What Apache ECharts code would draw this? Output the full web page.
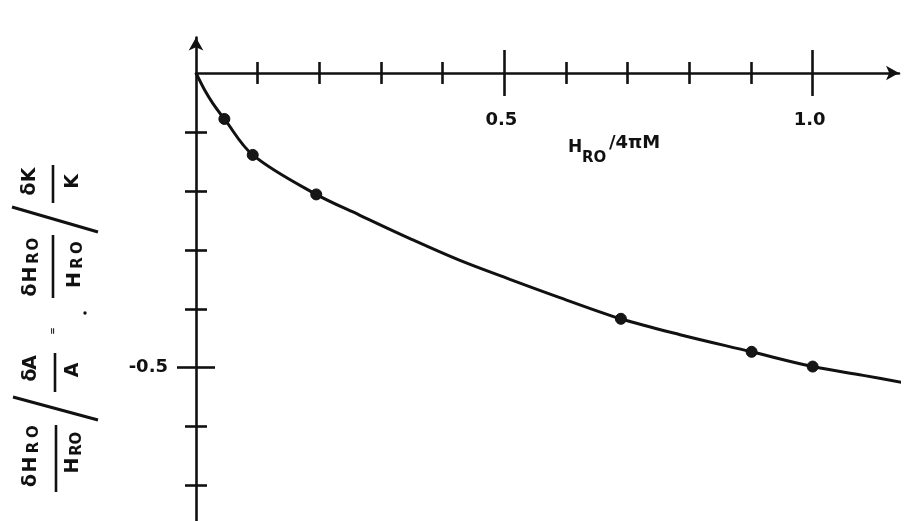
<!DOCTYPE html>
<html>
<head>
<meta charset="utf-8">
<script src="https://cdn.jsdelivr.net/npm/echarts@6/dist/echarts.min.js"></script>
<style>
  html, body { margin: 0; padding: 0; background: #ffffff; }
  #chart { width: 910px; height: 521px; }
</style>
</head>
<body>
<div id="chart"></div>
<script>
// Measured points: H_RO/4πM against the sensitivity ratio
const pointX = [0.046, 0.092, 0.195, 0.689, 0.901, 1.0];
const pointY = [-0.078, -0.139, -0.206, -0.417, -0.473, -0.498];

// Smooth curve drawn through the measurements
const curveX = [0, 0.014, 0.027, 0.046, 0.092, 0.195, 0.265, 0.347, 0.428, 0.509, 0.590, 0.689, 0.785, 0.901, 1.0, 1.082, 1.155];
const curveY = [0, -0.029, -0.051, -0.078, -0.139, -0.206, -0.241, -0.281, -0.318, -0.350, -0.381, -0.417, -0.444, -0.473, -0.498, -0.513, -0.527];

// Tick positions and their labels
const xMinorTicks = [0.1, 0.2, 0.3, 0.4, 0.6, 0.7, 0.8, 0.9];
const xMajorTicks = [0.5, 1.0];
const xTickLabels = ['0.5', '1.0'];
const yMinorTicks = [-0.1, -0.2, -0.3, -0.4, -0.6, -0.7];
const yMajorTicks = [-0.5];
const yTickLabels = ['-0.5'];

const INK = '#111111';
const FONT = '"DejaVu Sans", "Liberation Sans", sans-serif';
const AXIS_W = 2.6;

function labelFor(values, labels) {
  return function (v) {
    for (let i = 0; i < values.length; i++) {
      if (Math.abs(values[i] - v) < 1e-9) return labels[i];
    }
    return '';
  };
}

// One axis per tick direction / tick length, all pinned to the zero line
function xAxisDef(position, ticks, len, withLine) {
  return {
    type: 'value', min: 0, max: 1.14, position: position,
    splitLine: { show: false },
    axisLine: {
      show: withLine, onZero: true, onZeroAxisIndex: 0,
      symbol: ['none', 'arrow'], symbolSize: [11, 13],
      lineStyle: { color: INK, width: AXIS_W }
    },
    axisTick: { show: true, customValues: ticks, length: len, lineStyle: { color: INK, width: AXIS_W } },
    axisLabel: { show: false }
  };
}
function yAxisDef(position, ticks, len, withLine) {
  return {
    type: 'value', min: -0.76, max: 0.06, position: position,
    splitLine: { show: false },
    axisLine: {
      show: withLine, onZero: true, onZeroAxisIndex: 0,
      symbol: ['none', 'arrow'], symbolSize: [11, 13],
      lineStyle: { color: INK, width: AXIS_W }
    },
    axisTick: { show: true, customValues: ticks, length: len, lineStyle: { color: INK, width: AXIS_W } },
    axisLabel: withLine ? {
      show: true, customValues: yMajorTicks, formatter: labelFor(yMajorTicks, yTickLabels),
      margin: 28, color: INK, fontFamily: FONT, fontWeight: 'bold', fontSize: 18
    } : { show: false }
  };
}

// Glyph helper for the rotated y-axis title (local frame: u along reading direction, v across)
function glyph(ch, u, v, size) {
  return {
    type: 'text', x: u, y: v,
    style: { text: ch, font: 'bold ' + size + 'px ' + FONT, fill: INK, align: 'center', verticalAlign: 'middle' }
  };
}
function bar(u1, u2, v, w) {
  return { type: 'line', shape: { x1: u1, y1: v, x2: u2, y2: v }, style: { stroke: INK, lineWidth: w || 2.6 } };
}

const MAIN = 19, SUB = 15;
const yTitleParts = [
  // δH_RO / H_RO
  glyph('δ', 40.5, 31, MAIN), glyph('H', 56.5, 31, MAIN), glyph('R', 73.5, 34.5, SUB), glyph('O', 89.5, 34.5, SUB),
  bar(29, 96, 56),
  glyph('H', 55.5, 73.5, MAIN), glyph('R', 71, 77, SUB), glyph('O', 83, 77, SUB),
  // large divider
  { type: 'line', shape: { x1: 124, y1: 13, x2: 101, y2: 98 }, style: { stroke: INK, lineWidth: 3 } },
  // δA / A
  glyph('δ', 146, 31, MAIN), glyph('A', 158.5, 31, MAIN),
  bar(129, 168, 55),
  glyph('A', 151, 73, MAIN),
  // equals sign
  glyph('=', 190, 53, 9),
  // δH_RO / H_RO
  glyph('δ', 231, 31, MAIN), glyph('H', 246.5, 31, MAIN), glyph('R', 263, 34.5, SUB), glyph('O', 277, 34.5, SUB),
  bar(223, 286, 53),
  glyph('H', 241, 75, MAIN), glyph('R', 258, 78, SUB), glyph('O', 273.5, 78, SUB),
  { type: 'circle', shape: { cx: 208, cy: 85, r: 1.7 }, style: { fill: INK } },
  // large divider
  { type: 'line', shape: { x1: 314, y1: 12, x2: 289, y2: 98 }, style: { stroke: INK, lineWidth: 3 } },
  // δK / K
  glyph('δ', 332, 30, MAIN), glyph('K', 346, 30, MAIN),
  bar(318, 356, 53),
  glyph('K', 339.5, 73, MAIN)
];

const chart = echarts.init(document.getElementById('chart'), null, { renderer: 'canvas' });
chart.setOption({
  backgroundColor: '#ffffff',
  animation: false,
  grid: { left: 196, right: 11, top: 37.6, bottom: 0, containLabel: false, outerBoundsMode: 'none' },
  xAxis: [
    xAxisDef('bottom', xMinorTicks, 11, true),
    xAxisDef('top', xMinorTicks, 11, false),
    xAxisDef('bottom', xMajorTicks, 23, false),
    xAxisDef('top', xMajorTicks, 23, false)
  ],
  yAxis: [
    yAxisDef('left', yMinorTicks, 11, true),
    yAxisDef('right', yMinorTicks, 11, false),
    yAxisDef('left', yMajorTicks, 19, false),
    yAxisDef('right', yMajorTicks, 19, false)
  ],
  series: [
    {
      type: 'line', xAxisIndex: 0, yAxisIndex: 0,
      data: curveX.map((x, i) => [x, curveY[i]]),
      smooth: 0.35, showSymbol: false, clip: false,
      lineStyle: { color: INK, width: 3 }, z: 2
    },
    {
      type: 'scatter', xAxisIndex: 0, yAxisIndex: 0,
      data: pointX.map((x, i) => [x, pointY[i]]),
      symbol: 'circle', symbolSize: 11,
      itemStyle: { color: '#161616', borderColor: INK, borderWidth: 1, opacity: 1 }, z: 3
    }
  ]
});

// x tick labels sit below the zero line, placed through the axis scale
const xLabelGraphics = xMajorTicks.map(function (v, i) {
  const p = chart.convertToPixel({ xAxisIndex: 0, yAxisIndex: 0 }, [v, 0]);
  return {
    type: 'text', x: p[0] - 3, y: p[1] + 47,
    style: { text: xTickLabels[i], font: 'bold 18px ' + FONT, fill: INK, align: 'center', verticalAlign: 'middle' }
  };
});

chart.setOption({
  graphic: xLabelGraphics.concat([
    // x-axis title: H_RO/4πM
    { type: 'text', x: 575, y: 147.8, style: { text: 'H', font: 'bold 17px ' + FONT, fill: INK, align: 'center', verticalAlign: 'middle' } },
    { type: 'text', x: 582, y: 158, style: { text: 'RO', font: 'bold 15px ' + FONT, fill: INK, align: 'left', verticalAlign: 'middle' } },
    { type: 'text', x: 609, y: 143.2, style: { text: '/4πM', font: 'bold 18px ' + FONT, fill: INK, align: 'left', verticalAlign: 'middle' } },
    // rotated y-axis title
    { type: 'group', x: 0, y: 521, rotation: Math.PI / 2, children: yTitleParts }
  ])
});
</script>
</body>
</html>
